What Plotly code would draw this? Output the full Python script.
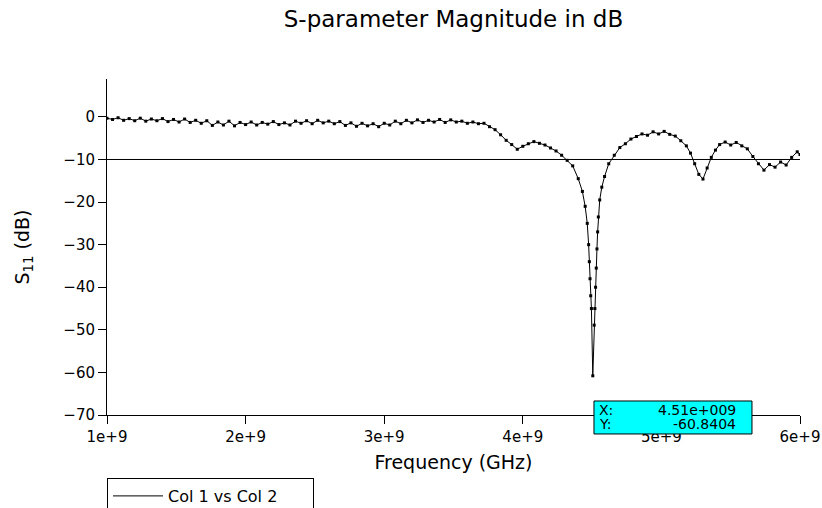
import plotly.graph_objects as go

# ---- data ----
freq_ghz = [1.00, 1.04, 1.08, 1.12, 1.16, 1.20, 1.24, 1.28, 1.32, 1.36,
            1.40, 1.44, 1.48, 1.52, 1.56, 1.60, 1.64, 1.68, 1.72, 1.76,
            1.80, 1.84, 1.88, 1.92, 1.96, 2.00, 2.04, 2.08, 2.12, 2.16,
            2.20, 2.24, 2.28, 2.32, 2.36, 2.40, 2.44, 2.48, 2.52, 2.56,
            2.60, 2.64, 2.68, 2.72, 2.76, 2.80, 2.84, 2.88, 2.92, 2.96,
            3.00, 3.04, 3.08, 3.12, 3.16, 3.20, 3.24, 3.28, 3.32, 3.36,
            3.40, 3.44, 3.48, 3.52, 3.56, 3.60, 3.64, 3.68, 3.72, 3.76,
            3.80, 3.84, 3.88, 3.92, 3.96, 4.00, 4.04, 4.08, 4.12, 4.16,
            4.20, 4.24, 4.28, 4.32, 4.36, 4.40, 4.43, 4.45, 4.465, 4.475,
            4.48, 4.485, 4.49, 4.495, 4.505, 4.515, 4.52, 4.525, 4.53, 4.535,
            4.54, 4.545, 4.555, 4.57, 4.59, 4.62, 4.66, 4.70, 4.74, 4.78,
            4.82, 4.86, 4.90, 4.94, 4.98, 5.02, 5.06, 5.10, 5.14, 5.18,
            5.21, 5.24, 5.27, 5.30, 5.33, 5.36, 5.39, 5.42, 5.46, 5.50,
            5.54, 5.58, 5.62, 5.66, 5.70, 5.74, 5.78, 5.82, 5.86, 5.90,
            5.94, 5.98, 6.00]
s11_db = [-0.3, -0.6, -0.2, -0.8, -0.4, -0.9, -0.3, -1.0, -0.5, -0.9,
          -0.4, -1.1, -0.6, -1.2, -0.5, -1.3, -0.8, -1.5, -0.9, -2.0,
          -1.2, -1.9, -1.0, -2.1, -1.3, -1.8, -1.2, -1.9, -1.3, -1.7,
          -1.1, -1.8, -1.4, -1.9, -1.0, -1.5, -0.9, -1.6, -0.8, -1.4,
          -1.0, -1.6, -1.1, -2.0, -1.4, -2.2, -1.5, -2.1, -1.6, -2.3,
          -1.5, -1.9, -1.0, -1.6, -0.8, -1.4, -0.7, -1.3, -0.8, -1.2,
          -0.6, -1.3, -0.7, -1.2, -1.0, -1.5, -1.2, -1.6, -1.5, -2.3,
          -3.0, -4.2, -5.5, -6.5, -7.6, -6.9, -6.3, -5.8, -6.2, -6.6,
          -7.3, -8.0, -9.0, -10.2, -11.5, -14.5, -17.5, -21.0, -25.0, -30.0,
          -34.0, -38.0, -42.0, -45.0, -60.8, -48.9, -45.0, -40.0, -35.5, -31.0,
          -27.0, -23.5, -19.5, -16.5, -14.0, -11.0, -9.0, -7.2, -6.3, -5.2,
          -4.6, -4.0, -4.3, -3.5, -4.0, -3.4, -4.1, -4.5, -5.6, -6.8,
          -8.5, -11.0, -13.5, -14.6, -12.0, -9.5, -7.8, -6.5, -5.9, -6.6,
          -6.0, -6.8, -7.5, -9.3, -11.0, -12.5, -11.2, -11.8, -10.6, -11.3,
          -9.5, -8.2, -8.8]
freq_hz = [f * 1e9 for f in freq_ghz]

series_name = "Col 1 vs Col 2"
ref_level = -10
x_ticks = [1e9, 2e9, 3e9, 4e9, 5e9, 6e9]
x_ticktext = ["1e+9", "2e+9", "3e+9", "4e+9", "5e+9", "6e+9"]
y_ticks = [0, -10, -20, -30, -40, -50, -60, -70]
cursor_x_text = "4.51e+009"
cursor_y_text = "-60.8404"

FONT = "DejaVu Sans"

fig = go.Figure()
fig.add_trace(go.Scatter(
    x=freq_hz, y=s11_db, mode="lines+markers",
    line=dict(color="black", width=1),
    marker=dict(symbol="square", size=3, color="black"),
    showlegend=False))
# legend entry (line only)
fig.add_trace(go.Scatter(
    x=[None], y=[None], mode="lines", name=series_name,
    line=dict(color="black", width=1)))

fig.add_hline(y=ref_level, line=dict(color="black", width=1), layer="below")

fig.update_layout(
    width=822, height=508,
    margin=dict(l=107, r=22, t=79, b=93, autoexpand=False),
    paper_bgcolor="white", plot_bgcolor="white",
    font=dict(family=FONT, color="black"),
    title=dict(text="S-parameter Magnitude in dB", x=0.5, xref="paper",
               xanchor="center", y=1 - 19 / 508, yanchor="middle",
               font=dict(size=23, family=FONT, color="black")),
    xaxis=dict(range=[1e9, 6e9], tickvals=x_ticks, ticktext=x_ticktext,
               showline=True, linecolor="black", linewidth=1,
               ticks="outside", ticklen=8, tickcolor="black",
               showgrid=False, zeroline=False, automargin=False,
               tickfont=dict(size=15, family=FONT),
               title=dict(text="Frequency (GHz)", standoff=10,
                          font=dict(size=19, family=FONT))),
    yaxis=dict(range=[-70, 8.9], tickvals=y_ticks,
               showline=True, linecolor="black", linewidth=1,
               ticks="outside", ticklen=8, tickcolor="black",
               showgrid=False, zeroline=False, automargin=False,
               tickfont=dict(size=15, family=FONT),
               title=dict(text="S<sub>11</sub> (dB)", standoff=28,
                          font=dict(size=19, family=FONT))),
    legend=dict(x=107 / 822, xanchor="left", y=(508 - 478) / 508, yanchor="top",
                xref="container", yref="container",
                orientation="h", entrywidth=140, itemwidth=50,
                bordercolor="black", borderwidth=1, bgcolor="white",
                font=dict(size=16, family=FONT)),
    shapes=[
        dict(type="rect", xref="paper", yref="paper", x0=0, x1=1, y0=0, y1=1,
             line=dict(color="#777777", width=1), layer="below"),
        dict(type="rect", xref="paper", yref="paper",
             x0=0.7027, x1=0.9307, y0=-0.0565, y1=0.0417,
             line=dict(color="black", width=1), fillcolor="#00FFFF",
             layer="above"),
    ],
    annotations=[
        dict(text="X:", xref="paper", yref="paper", x=0.7071, y=0.0149,
             xanchor="left", yanchor="middle", showarrow=False,
             font=dict(size=14, family=FONT)),
        dict(text=cursor_x_text, xref="paper", yref="paper", x=0.9105, y=0.0149,
             xanchor="right", yanchor="middle", showarrow=False,
             font=dict(size=14, family=FONT)),
        dict(text="Y:", xref="paper", yref="paper", x=0.7071, y=-0.0268,
             xanchor="left", yanchor="middle", showarrow=False,
             font=dict(size=14, family=FONT)),
        dict(text=cursor_y_text, xref="paper", yref="paper", x=0.9105, y=-0.0268,
             xanchor="right", yanchor="middle", showarrow=False,
             font=dict(size=14, family=FONT)),
    ],
)

fig.write_html("out.html")
